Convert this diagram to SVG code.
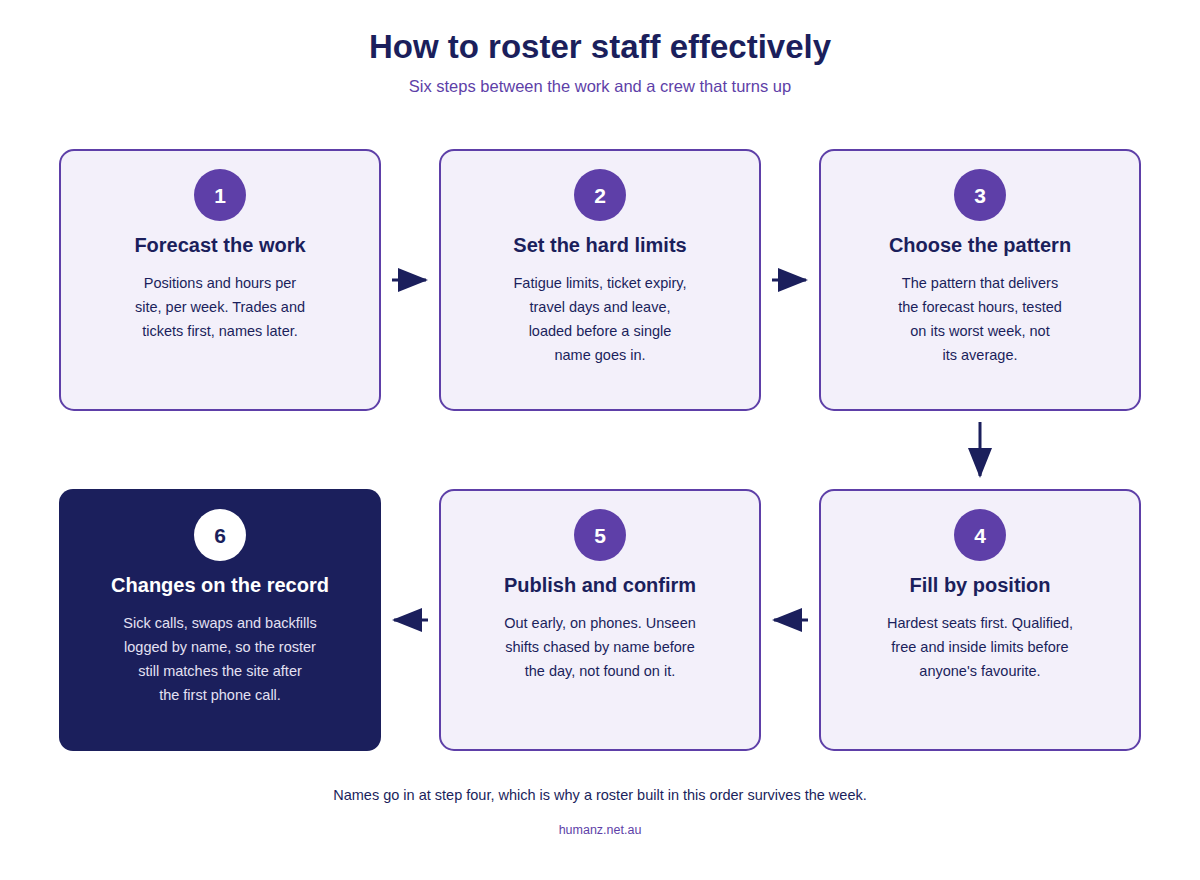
<svg xmlns="http://www.w3.org/2000/svg" width="1200" height="880" viewBox="0 0 1200 880">
<style>
text{font-family:"Liberation Sans",Arial,sans-serif;text-anchor:middle}
.box{fill:#f3f0fa;stroke:#5e3fa8;stroke-width:2}
.dark{fill:#1b1f5c}
.num{fill:#5e3fa8}
.nt{fill:#fff;font-size:21px;font-weight:bold}
.h{fill:#1b1f5c;font-size:20px;font-weight:bold}
.b{fill:#1b1f5c;font-size:14.5px}
.conn{stroke:#1b1f5c;stroke-width:3;fill:none}
</style>
<defs>
<marker id="ah" viewBox="0 0 10 10" refX="10" refY="5" markerWidth="10" markerHeight="8" markerUnits="userSpaceOnUse" orient="auto">
<path d="M0,0 L10,5 L0,10 Z" fill="#1b1f5c"/>
</marker>
<marker id="a" viewBox="0 0 30 24" refX="28" refY="12" markerWidth="30" markerHeight="24" markerUnits="userSpaceOnUse" orient="auto">
<path d="M0,0 L30,12 L0,24 Z" fill="#1b1f5c"/>
</marker>
</defs>
<rect width="1200" height="880" fill="#fff"/>
<text x="600" y="58" style="font-size:33px;font-weight:bold;fill:#1b1f5c">How to roster staff effectively</text>
<text x="600" y="92" style="font-size:16.5px;fill:#5e3fa8">Six steps between the work and a crew that turns up</text>

<g id="connectors">
<line class="conn" x1="392" y1="280" x2="426" y2="280" marker-end="url(#a)"/>
<line class="conn" x1="772" y1="280" x2="806" y2="280" marker-end="url(#a)"/>
<line class="conn" x1="980" y1="422" x2="980" y2="476" marker-end="url(#a)"/>
<line class="conn" x1="808" y1="620" x2="774" y2="620" marker-end="url(#a)"/>
<line class="conn" x1="428" y1="620" x2="394" y2="620" marker-end="url(#a)"/>
</g>

<g id="node1">
<rect class="box" x="60" y="150" width="320" height="260" rx="14"/>
<circle class="num" cx="220" cy="195" r="26"/><text class="nt" x="220" y="203">1</text>
<text class="h" x="220" y="252">Forecast the work</text>
<text class="b" x="220" y="288">Positions and hours per</text>
<text class="b" x="220" y="312">site, per week. Trades and</text>
<text class="b" x="220" y="336">tickets first, names later.</text>
</g>
<g id="node2">
<rect class="box" x="440" y="150" width="320" height="260" rx="14"/>
<circle class="num" cx="600" cy="195" r="26"/><text class="nt" x="600" y="203">2</text>
<text class="h" x="600" y="252">Set the hard limits</text>
<text class="b" x="600" y="288">Fatigue limits, ticket expiry,</text>
<text class="b" x="600" y="312">travel days and leave,</text>
<text class="b" x="600" y="336">loaded before a single</text>
<text class="b" x="600" y="360">name goes in.</text>
</g>
<g id="node3">
<rect class="box" x="820" y="150" width="320" height="260" rx="14"/>
<circle class="num" cx="980" cy="195" r="26"/><text class="nt" x="980" y="203">3</text>
<text class="h" x="980" y="252">Choose the pattern</text>
<text class="b" x="980" y="288">The pattern that delivers</text>
<text class="b" x="980" y="312">the forecast hours, tested</text>
<text class="b" x="980" y="336">on its worst week, not</text>
<text class="b" x="980" y="360">its average.</text>
</g>
<g id="node4">
<rect class="box" x="820" y="490" width="320" height="260" rx="14"/>
<circle class="num" cx="980" cy="535" r="26"/><text class="nt" x="980" y="543">4</text>
<text class="h" x="980" y="592">Fill by position</text>
<text class="b" x="980" y="628">Hardest seats first. Qualified,</text>
<text class="b" x="980" y="652">free and inside limits before</text>
<text class="b" x="980" y="676">anyone's favourite.</text>
</g>
<g id="node5">
<rect class="box" x="440" y="490" width="320" height="260" rx="14"/>
<circle class="num" cx="600" cy="535" r="26"/><text class="nt" x="600" y="543">5</text>
<text class="h" x="600" y="592">Publish and confirm</text>
<text class="b" x="600" y="628">Out early, on phones. Unseen</text>
<text class="b" x="600" y="652">shifts chased by name before</text>
<text class="b" x="600" y="676">the day, not found on it.</text>
</g>
<g id="node6">
<rect class="dark" x="59" y="489" width="322" height="262" rx="14"/>
<circle cx="220" cy="535" r="26" fill="#fff"/><text class="nt" x="220" y="543" style="fill:#1b1f5c">6</text>
<text class="h" x="220" y="592" style="fill:#fff">Changes on the record</text>
<text class="b" x="220" y="628" style="fill:#e4e1f3">Sick calls, swaps and backfills</text>
<text class="b" x="220" y="652" style="fill:#e4e1f3">logged by name, so the roster</text>
<text class="b" x="220" y="676" style="fill:#e4e1f3">still matches the site after</text>
<text class="b" x="220" y="700" style="fill:#e4e1f3">the first phone call.</text>
</g>
<text x="600" y="800" style="font-size:14.5px;fill:#1b1f5c">Names go in at step four, which is why a roster built in this order survives the week.</text>
<text x="600" y="834" style="font-size:12.5px;fill:#5e3fa8">humanz.net.au</text>
</svg>
